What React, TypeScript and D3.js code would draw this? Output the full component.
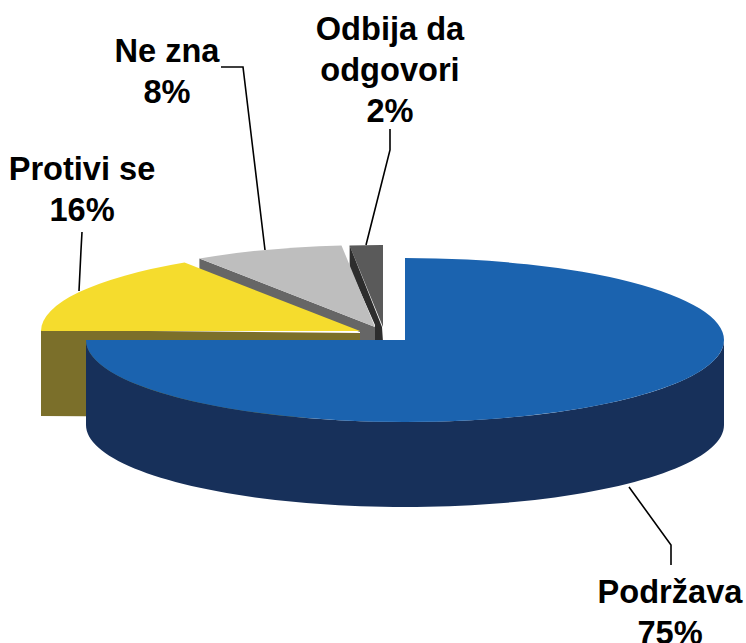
import React from "react";
import * as d3 from "d3";

const categories = ["Podržava", "Protivi se", "Ne zna", "Odbija da odgovori"];
const labelValues = [75, 16, 8, 2];
// Visible sweep of each slice as it appears in the picture's tilted projection (degrees)
const drawnSweep = [270, 56.6, 27.4, 6];
const topColors = ["#1b63af", "#f5dc2d", "#bebebe", "#5a5a5a"];
const sideColors = ["#17305a", "#7b6f2a", "#666666", "#2d2d2d"];

const W = 746, H = 643;
const RX = 319, RY = 82, DEPTH = 85;
// Exploded slice centres
const centres: [number, number][] = [[405, 340], [360, 331], [375, 327], [383, 327]];
const labelLines = [["Podržava"], ["Protivi se"], ["Ne zna"], ["Odbija da", "odgovori"]];
const labelAnchors: [number, number][] = [[670, 603], [82, 180], [167, 62], [390, 40]];
const leaders: [number, number][][] = [
  [[629, 487], [671, 545], [671, 565]],
  [[82, 232], [81, 250], [79, 291]],
  [[221, 67], [243, 67], [265, 250]],
  [[390, 129], [390, 150], [366, 245]],
];
const LINE = 41;

const pieGen = d3.pie<number>().sort(null).value((d) => d);
const arcs = pieGen(drawnSweep);
const arcGen = d3.arc<d3.PieArcDatum<number>>().innerRadius(0).outerRadius(1);

function pt(c: [number, number], a: number): [number, number] {
  return [c[0] + RX * Math.sin(a), c[1] - RY * Math.cos(a)];
}

const line = d3.line();

export default function App() {
  const a0 = arcs[0];
  const [bc, yc, gc, dc] = centres;

  const blueWall: [number, number][] = [];
  d3.range(90, 270.5, 2).forEach((deg) => blueWall.push(pt(bc, (deg * Math.PI) / 180)));
  const blueWallBottom = [...blueWall].reverse().map(([x, y]) => [x, y + DEPTH] as [number, number]);

  const yLeft = pt(yc, arcs[1].startAngle);
  const yellowWall: [number, number][] = [
    [yLeft[0], yLeft[1] - 1], [yc[0], yc[1] + 2], [yc[0], yc[1] + 2 + DEPTH], [yLeft[0], yLeft[1] + DEPTH],
  ];

  // The grey cut face runs down behind the yellow slice, so the two abut with no gap
  const gLeft = pt(gc, arcs[2].startAngle);
  const greyWall: [number, number][] = [
    gLeft, gc, [gc[0], bc[1] + 2], [yc[0], bc[1] + 2], [yc[0], yc[1] + 1], [gLeft[0], gLeft[1] + 14],
  ];

  const dLeft = pt(dc, arcs[3].startAngle);
  const darkWall: [number, number][] = [
    dLeft, [dc[0] - 1, dc[1]], [dc[0], bc[1] + 2], [dc[0] - 8, bc[1] + 2], [dc[0] - 8, dc[1] - 2], [dLeft[0], dLeft[1] + 22],
  ];

  return (
    <svg width={W} height={H} style={{ position: "absolute", left: 0, top: 0 }}>
      <path d={arcGen(arcs[3]) as string} fill={topColors[3]} transform={`translate(${dc[0]},${dc[1]}) scale(${RX},${RY})`} />
      <path d={line(darkWall) as string} fill={sideColors[3]} />
      <path d={line(greyWall) as string} fill={sideColors[2]} />
      <path d={arcGen(arcs[2]) as string} fill={topColors[2]} transform={`translate(${gc[0]},${gc[1]}) scale(${RX},${RY})`} />
      <path d={line(yellowWall) as string} fill={sideColors[1]} />
      <path d={arcGen(arcs[1]) as string} fill={topColors[1]} transform={`translate(${yc[0]},${yc[1]}) scale(${RX},${RY})`} />
      <path d={(line(blueWall.concat(blueWallBottom)) as string) + "Z"} fill={sideColors[0]} />
      <path d={arcGen(a0) as string} fill={topColors[0]} transform={`translate(${bc[0]},${bc[1]}) scale(${RX},${RY})`} />
      {leaders.map((l, i) => (
        <path key={i} d={line(l) as string} fill="none" stroke="#000" strokeWidth={1.6} />
      ))}
      {categories.map((c, i) => {
        const rows = [...labelLines[i], `${labelValues[i]}%`];
        return (
          <text key={c} x={labelAnchors[i][0]} y={labelAnchors[i][1]} textAnchor="middle"
            fontFamily="'Liberation Sans', Arial, sans-serif" fontWeight="bold" fontSize={32.6} fill="#000">
            {rows.map((r, j) => (
              <tspan key={j} x={labelAnchors[i][0]} y={labelAnchors[i][1] + j * LINE}>{r}</tspan>
            ))}
          </text>
        );
      })}
    </svg>
  );
}
